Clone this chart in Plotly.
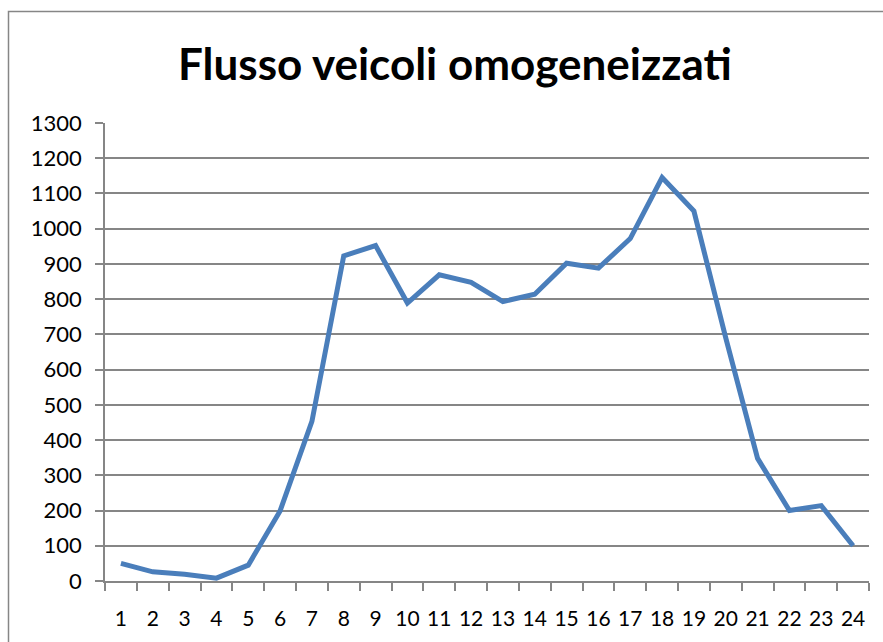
import plotly.graph_objects as go

hours = [str(h) for h in range(1, 25)]
flow = [50, 26, 19, 8, 45, 199, 453, 923, 952, 789, 869, 848, 793, 814,
        902, 888, 972, 1145, 1050, 690, 348, 200, 214, 100]
title_text = "Flusso veicoli omogeneizzati"

W, H = 883, 642
L, R, T, B = 105, 14, 123, 61
pw, ph = W - L - R, H - T - B

def px_x(p):
    return (p - L) / pw

def px_y(p):
    return (H - B - p) / ph

fig = go.Figure()
fig.add_trace(go.Scatter(
    x=hours, y=flow, mode="lines",
    line=dict(color="#4A7EBB", width=5),
    showlegend=False, hoverinfo="x+y",
))

grey = "#868686"
fig.update_layout(
    width=W, height=H,
    margin=dict(l=L, r=R, t=T, b=B, autoexpand=False),
    paper_bgcolor="white", plot_bgcolor="white",
    font=dict(family="Lato, Carlito, Calibri, sans-serif", color="black", size=22),
    xaxis=dict(
        type="category", tickson="boundaries", ticks="outside", ticklen=8,
        range=[-0.5, len(hours) - 0.5],
        tickcolor=grey, tickwidth=1.5, showgrid=False, showline=True,
        linecolor=grey, linewidth=1.5, zeroline=False, tickangle=0,
        automargin=False,
        tickfont=dict(size=21), ticklabelstandoff=18,
    ),
    yaxis=dict(
        range=[0, 1300], dtick=100, tick0=0, ticks="outside", ticklen=8,
        tickcolor=grey, tickwidth=1.5, showgrid=True, gridcolor=grey,
        gridwidth=1.5, showline=True, linecolor=grey, linewidth=1.5,
        zeroline=False, automargin=False,
        tickfont=dict(size=22), ticklabelstandoff=9,
    ),
    shapes=[dict(
        type="rect", xref="paper", yref="paper",
        x0=px_x(8.5), x1=px_x(W + 20), y0=px_y(H + 20), y1=px_y(11.5),
        line=dict(color=grey, width=1.5), fillcolor="rgba(0,0,0,0)",
        layer="below",
    )],
    annotations=[dict(
        text="<b>" + title_text + "</b>", xref="paper", yref="paper",
        x=px_x(455), y=px_y(63), xanchor="center", yanchor="middle",
        showarrow=False, font=dict(size=44, color="black"),
    )],
)

fig.write_html("out.html", config={"displayModeBar": False},
               post_script="document.body.style.margin='0';")
